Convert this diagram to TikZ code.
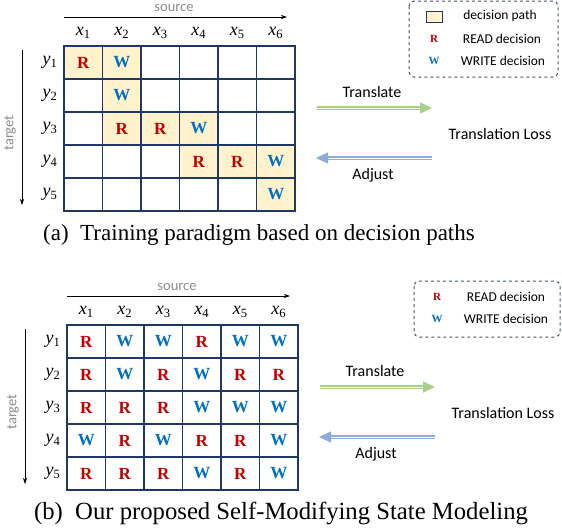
\documentclass[tikz,border=0pt]{standalone}
\usepackage{fontspec}
\setmainfont{Liberation Serif}
\newfontfamily\carlito{Carlito}
\usepackage{tikz}
\usetikzlibrary{arrows.meta}

\definecolor{gridblue}{HTML}{203864}
\definecolor{pathyellow}{HTML}{FFF2CC}
\definecolor{readred}{HTML}{C00000}
\definecolor{writeblue}{HTML}{0070C0}
\definecolor{axisgray}{HTML}{8C8C8C}
\definecolor{keygray}{HTML}{44546A}
\definecolor{transgreen}{HTML}{A9D18E}
\definecolor{adjustblue}{HTML}{8FAADC}

\begin{document}
\begin{tikzpicture}[x=1pt,y=-1pt,
    gridcell/.style={draw=gridblue,line width=1.2pt,minimum width=38.5pt,minimum height=33pt,inner sep=0pt,font=\fontsize{17}{17}\selectfont\bfseries},
    markR/.style={text=readred},
    markW/.style={text=writeblue},
    markE/.style={},
    keyR/.style={text=readred,font=\fontsize{11}{11}\selectfont\bfseries},
    keyW/.style={text=writeblue,font=\fontsize{11}{11}\selectfont\bfseries},
    keytext/.style={font=\carlito\fontsize{13.5}{13.5}\selectfont},
    axistext/.style={text=axisgray,font=\carlito\fontsize{14.5}{14.5}\selectfont},
    sidetext/.style={font=\carlito\fontsize{16}{16}\selectfont},
    idx/.style={font=\fontsize{18}{18}\selectfont\itshape},
    axisarrow/.style={line width=0.7pt,-{Stealth[length=6pt,width=4pt]}},
    flow/.style={double=white,double distance=1pt,line width=1.4pt,-{Triangle[length=12pt,width=11pt]}},
    keybox/.style={draw=keygray,dashed,rounded corners=5pt,line width=1pt},
    caption/.style={font=\fontsize{23}{23}\selectfont}]
  \useasboundingbox (0,0) rectangle (562,528);

  % (a) decision paths
  \begin{scope}[pathR/.style={fill=pathyellow},pathW/.style={fill=pathyellow},pathE/.style={}]
    \foreach \r/\row in {1/{R,W,E,E,E,E},2/{E,W,E,E,E,E},3/{E,R,R,W,E,E},4/{E,E,E,R,R,W},5/{E,E,E,E,E,W}}
      \foreach \d [count=\c] in \row
        \node[gridcell,mark\d,path\d] (a\r\c) at ({44.75+38.5*\c},{29.5+33*\r}) {\if\d E\else\d\fi};
    \foreach \c in {1,...,6}
      \node[idx] (ax\c) at ({44.75+38.5*\c},33) {x\textsubscript{\upshape\c}};
    \foreach \r in {1,...,5}
      \node[idx] (ay\r) at (50,{29.5+33*\r}) {y\textsubscript{\upshape\r}};
    \coordinate (asrc0) at (64,17);
    \coordinate (asrc1) at (287,17);
    \draw[axisarrow] (asrc0) -- (asrc1);
    \node[axistext] (asrc) at (174,8) {source};
    \coordinate (atgt0) at (22,50);
    \coordinate (atgt1) at (22,205);
    \draw[axisarrow] (atgt0) -- (atgt1);
    \node[axistext,rotate=90] (atgt) at (10,133) {target};
    \coordinate (atr0) at (317,108);
    \coordinate (atr1) at (432,108);
    \draw[flow,transgreen] (atr0) -- (atr1);
    \node[sidetext] (atrlbl) at (372,92) {Translate};
    \node[sidetext] (aloss) at (500,134) {Translation Loss};
    \coordinate (aadj0) at (432,158);
    \coordinate (aadj1) at (316,158);
    \draw[flow,adjustblue] (aadj0) -- (aadj1);
    \node[sidetext] (aadjlbl) at (373,175) {Adjust};
  \end{scope}
  \draw[keybox] (409,1) rectangle (558,77);
  \node[draw=gridblue,line width=0.8pt,fill=pathyellow,minimum width=16pt,minimum height=11pt,inner sep=0pt] (akeypath) at (434,16.5) {};
  \node[keyR] (akeyR) at (434,39) {R};
  \node[keyW] (akeyW) at (434,61) {W};
  \node[keytext] (akeypathtxt) at (500,16) {decision path};
  \node[keytext] (akeyRtxt) at (502,39) {READ decision};
  \node[keytext] (akeyWtxt) at (503,61) {WRITE decision};
  \node[caption] (capa) at (259,235) {(a)~~Training paradigm based on decision paths};

  % (b) self-modifying states
  \begin{scope}[shift={(3,279)}]
    \foreach \r/\row in {1/{R,W,W,R,W,W},2/{R,W,R,W,R,R},3/{R,R,R,W,W,W},4/{W,R,W,R,R,W},5/{R,R,R,W,R,W}}
      \foreach \d [count=\c] in \row
        \node[gridcell,mark\d] (b\r\c) at ({44.75+38.5*\c},{29.5+33*\r}) {\d};
    \foreach \c in {1,...,6}
      \node[idx] (bx\c) at ({44.75+38.5*\c},33) {x\textsubscript{\upshape\c}};
    \foreach \r in {1,...,5}
      \node[idx] (by\r) at (50,{29.5+33*\r}) {y\textsubscript{\upshape\r}};
    \coordinate (bsrc0) at (64,17);
    \coordinate (bsrc1) at (287,17);
    \draw[axisarrow] (bsrc0) -- (bsrc1);
    \node[axistext] (bsrc) at (174,8) {source};
    \coordinate (btgt0) at (22,50);
    \coordinate (btgt1) at (22,205);
    \draw[axisarrow] (btgt0) -- (btgt1);
    \node[axistext,rotate=90] (btgt) at (10,133) {target};
    \coordinate (btr0) at (317,108);
    \coordinate (btr1) at (432,108);
    \draw[flow,transgreen] (btr0) -- (btr1);
    \node[sidetext] (btrlbl) at (372,92) {Translate};
    \node[sidetext] (bloss) at (500,134) {Translation Loss};
    \coordinate (badj0) at (432,158);
    \coordinate (badj1) at (316,158);
    \draw[flow,adjustblue] (badj0) -- (badj1);
    \node[sidetext] (badjlbl) at (373,175) {Adjust};
  \end{scope}
  \draw[keybox] (414,281) rectangle (560,337);
  \node[keyR] (bkeyR) at (437,297) {R};
  \node[keyW] (bkeyW) at (437,319) {W};
  \node[keytext] (bkeyRtxt) at (506,297) {READ decision};
  \node[keytext] (bkeyWtxt) at (506,319) {WRITE decision};
  \node[caption,font=\fontsize{24.7}{24.7}\selectfont] (capb) at (281,513) {(b)~~Our proposed Self-Modifying State Modeling};
\end{tikzpicture}
\end{document}
